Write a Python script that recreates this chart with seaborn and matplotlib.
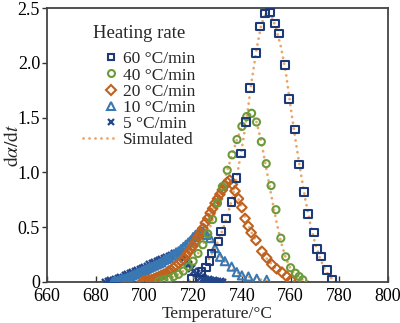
import matplotlib
matplotlib.use("Agg")
import matplotlib.pyplot as plt
import seaborn as sns
from matplotlib.lines import Line2D
from matplotlib.legend_handler import HandlerLine2D

# ---------------- data ----------------
rates = ["60 \u00b0C/min", "40 \u00b0C/min", "20 \u00b0C/min", "10 \u00b0C/min", "5 \u00b0C/min"]

T60 = [719.5, 723.5, 725.3, 726.6, 727.5, 730.3, 731.5, 733.5, 735.8, 737.9, 739.6, 741.7,
       743.4, 745.8, 747.5, 749.5, 751.6, 753.6, 755.3, 757.7, 759.4, 761.8, 763.5, 765.5,
       767.2, 769.6, 770.9, 772.5, 775.0, 777.0]
Y60 = [0.03, 0.09, 0.13, 0.19, 0.26, 0.37, 0.46, 0.58, 0.73, 0.95, 1.17, 1.46,
       1.77, 2.09, 2.33, 2.45, 2.46, 2.36, 2.27, 1.98, 1.67, 1.39, 1.07, 0.82,
       0.62, 0.45, 0.30, 0.23, 0.11, 0.02]

T40 = [706, 708, 710, 712, 714, 716, 718, 720, 722, 724, 726, 728, 730, 732, 734, 736, 738,
       740, 742, 744, 746, 748, 750, 752, 754, 756, 758, 760, 762, 763.5, 765]
Y40 = [0.01, 0.02, 0.03, 0.05, 0.07, 0.10, 0.14, 0.19, 0.26, 0.34, 0.44, 0.57, 0.72, 0.87,
       1.02, 1.16, 1.30, 1.42, 1.51, 1.54, 1.46, 1.28, 1.08, 0.88, 0.66, 0.40, 0.23, 0.13,
       0.08, 0.05, 0.02]

T20 = [699, 700, 701, 702, 703, 704, 705, 706, 707, 708, 709, 710, 711, 712, 713, 714, 715,
       716, 717, 718, 719, 720, 721, 722, 723, 724, 725, 726, 727, 728, 729, 730, 731, 732,
       733, 734, 735, 736.1, 737.2, 738.6, 740.0, 741.3, 742.6, 743.8, 745.8, 748.2, 750.2,
       752.3, 754.3, 756.4, 758.4, 760.2]
Y20 = [0.00, 0.01, 0.01, 0.02, 0.02, 0.03, 0.04, 0.05, 0.06, 0.07, 0.08, 0.10, 0.11, 0.13,
       0.15, 0.17, 0.19, 0.21, 0.24, 0.27, 0.30, 0.33, 0.37, 0.41, 0.45, 0.49, 0.54, 0.58,
       0.63, 0.67, 0.72, 0.76, 0.80, 0.84, 0.88, 0.91, 0.93, 0.89, 0.83, 0.76, 0.68, 0.58,
       0.51, 0.45, 0.38, 0.28, 0.22, 0.16, 0.12, 0.09, 0.05, 0.02]

T10 = [687, 688, 689, 690, 691, 692, 693, 694, 695, 696, 697, 698, 699, 700, 701, 702, 703,
       704, 705, 706, 707, 708, 709, 710, 711, 712, 713, 714, 715, 716, 717, 718, 719, 720,
       721, 722, 723, 724, 725.5, 727, 729, 731, 733, 735.8, 737.9, 740, 742.7, 746.1, 750.2]
Y10 = [0.00, 0.01, 0.01, 0.02, 0.03, 0.03, 0.04, 0.05, 0.06, 0.07, 0.08, 0.09, 0.10, 0.11,
       0.12, 0.13, 0.14, 0.15, 0.16, 0.17, 0.18, 0.20, 0.21, 0.22, 0.24, 0.25, 0.27, 0.28,
       0.30, 0.32, 0.34, 0.36, 0.38, 0.41, 0.43, 0.45, 0.47, 0.46, 0.43, 0.40, 0.31, 0.23,
       0.19, 0.14, 0.09, 0.06, 0.05, 0.03, 0.02]

T5 = [684, 685, 686, 687, 688, 689, 690, 691, 692, 693, 694, 695, 696, 697, 698, 699, 700,
      701, 702, 703, 704, 705, 706, 707, 708, 709, 710, 711, 712, 713, 714, 715, 716, 717,
      718, 719, 720, 721, 722, 723, 724, 725, 726, 727, 728, 729, 730, 731, 732]
Y5 = [0.00, 0.01, 0.02, 0.02, 0.03, 0.04, 0.05, 0.05, 0.06, 0.07, 0.08, 0.09, 0.10, 0.11,
      0.12, 0.13, 0.14, 0.15, 0.16, 0.17, 0.18, 0.19, 0.20, 0.21, 0.22, 0.23, 0.24, 0.25,
      0.26, 0.26, 0.26, 0.24, 0.22, 0.19, 0.16, 0.13, 0.10, 0.08, 0.06, 0.05, 0.04, 0.03,
      0.03, 0.02, 0.02, 0.01, 0.01, 0.01, 0.00]

# simulated curves
S60_T = [716, 718, 720, 722, 724, 726, 728, 730, 732, 734, 736, 738, 740, 742, 744, 746, 748,
         750, 752, 754, 756, 758, 760, 762, 764, 766, 768, 770, 772, 774, 776, 778, 780]
S60_Y = [0.00, 0.01, 0.03, 0.07, 0.12, 0.19, 0.27, 0.36, 0.47, 0.60, 0.76, 0.97, 1.22, 1.50,
         1.83, 2.12, 2.35, 2.46, 2.44, 2.32, 2.15, 1.92, 1.60, 1.30, 1.02, 0.76, 0.54, 0.36,
         0.22, 0.12, 0.05, 0.01, 0.00]
S40_T = [702, 704, 706, 708, 710, 712, 714, 716, 718, 720, 722, 724, 726, 728, 730, 732, 734,
         736, 738, 740, 742, 744, 746, 748, 750, 752, 754, 756, 758, 760, 762, 764, 766, 768]
S40_Y = [0.00, 0.00, 0.01, 0.02, 0.03, 0.05, 0.07, 0.10, 0.14, 0.19, 0.26, 0.34, 0.44, 0.57,
         0.72, 0.87, 1.02, 1.16, 1.30, 1.42, 1.51, 1.54, 1.46, 1.28, 1.04, 0.80, 0.57, 0.37,
         0.22, 0.12, 0.06, 0.03, 0.01, 0.00]
S20_T = [696, 698, 700, 702, 704, 706, 708, 710, 712, 714, 716, 718, 720, 722, 724, 726, 728,
         730, 732, 734, 736, 738, 740, 742, 744, 746, 748, 750, 752, 754, 756, 758, 760, 762, 764]
S20_Y = [0.00, 0.00, 0.01, 0.02, 0.03, 0.05, 0.07, 0.10, 0.13, 0.17, 0.21, 0.27, 0.33, 0.41,
         0.49, 0.58, 0.67, 0.76, 0.84, 0.91, 0.91, 0.79, 0.68, 0.55, 0.45, 0.37, 0.29, 0.22,
         0.17, 0.12, 0.09, 0.05, 0.02, 0.01, 0.00]
S10_T = [684, 686, 688, 690, 692, 694, 696, 698, 700, 702, 704, 706, 708, 710, 712, 714, 716,
         718, 720, 722, 724, 726, 728, 730, 732, 734, 736, 738, 740, 742, 744, 746, 748, 750, 752]
S10_Y = [0.00, 0.00, 0.01, 0.02, 0.03, 0.05, 0.07, 0.09, 0.11, 0.13, 0.15, 0.17, 0.20, 0.22,
         0.25, 0.28, 0.32, 0.36, 0.41, 0.45, 0.46, 0.42, 0.35, 0.27, 0.21, 0.16, 0.12, 0.09,
         0.06, 0.05, 0.04, 0.03, 0.02, 0.01, 0.00]
S5_T = [682, 684, 686, 688, 690, 692, 694, 696, 698, 700, 702, 704, 706, 708, 710, 712, 714,
        716, 718, 720, 722, 724, 726, 728, 730, 732, 734]
S5_Y = [0.00, 0.01, 0.02, 0.03, 0.05, 0.06, 0.08, 0.10, 0.12, 0.14, 0.16, 0.18, 0.20, 0.22,
        0.24, 0.26, 0.26, 0.22, 0.16, 0.10, 0.06, 0.04, 0.03, 0.02, 0.01, 0.00, 0.00]

x_ticks = [660, 680, 700, 720, 740, 760, 780, 800]
y_ticks = [0, 0.5, 1.0, 1.5, 2.0, 2.5]
y_ticklabels = ["0", "0.5", "1.0", "1.5", "2.0", "2.5"]

# ---------------- style ----------------
sns.set_theme(style="ticks")
plt.rcParams['font.family'] = ['Liberation Serif', 'DejaVu Serif']
plt.rcParams['mathtext.fontset'] = 'stix'

C60 = "#1c3a78"
C40 = "#6a9a3a"
C20 = "#c0621f"
C10 = "#3a78b4"
C5 = "#24468a"
CSIM = "#e9a66b"
DOT = (0, (0.05, 2.1))

fig = plt.figure(figsize=(4.0, 3.23), dpi=100)
ax = fig.add_axes([0.1175, 0.127, 0.8525, 0.848])

sim_style = dict(color=CSIM, linewidth=2.0, linestyle=DOT,
                 dash_capstyle="round", estimator=None, sort=False, legend=False, zorder=2)
for st, sy in [(S60_T, S60_Y), (S40_T, S40_Y), (S20_T, S20_Y), (S10_T, S10_Y), (S5_T, S5_Y)]:
    sns.lineplot(x=st, y=sy, ax=ax, **sim_style)


def hollow(x, y, marker, color, s, lw=1.5):
    sns.scatterplot(x=x, y=y, ax=ax, marker=marker, s=s, facecolor="none",
                    edgecolor=color, linewidth=lw, legend=False, zorder=3)


sns.scatterplot(x=T5, y=Y5, ax=ax, marker="x", s=26, color=C5, linewidth=1.7,
                legend=False, zorder=3)
hollow(T10, Y10, "^", C10, 34)
hollow(T20, Y20, "D", C20, 24)
hollow(T40, Y40, "o", C40, 26)
hollow(T60, Y60, "s", C60, 28)

ax.set_xlim(660, 800)
ax.set_ylim(0, 2.5)
ax.set_xticks(x_ticks)
ax.set_yticks(y_ticks)
ax.set_yticklabels(y_ticklabels)
ax.tick_params(axis="x", direction="in", length=4, width=1.0, pad=4.5, labelsize=13,
               color="#333333", labelcolor="black")
ax.tick_params(axis="y", direction="out", length=3.5, width=1.0, pad=1.5, labelsize=13,
               color="#333333", labelcolor="black")
for sp in ax.spines.values():
    sp.set_visible(True)
    sp.set_linewidth(1.3)
    sp.set_color("#444444")

ax.set_xlabel("Temperature/\u00b0C", fontsize=12.5, labelpad=0.5)
ax.set_ylabel(r"$\mathrm{d}\alpha/\mathrm{d}t$", fontsize=14)
ax.yaxis.set_label_coords(-0.074, 0.5)


class RightMarker(HandlerLine2D):
    def get_xdata(self, legend, xdescent, ydescent, width, height, fontsize):
        xm = -xdescent + width - 0.15 * fontsize
        return [xm - 0.5, xm + 0.5], [xm]


marker_handles = [
    Line2D([], [], linestyle="none", marker="s", markersize=5, mfc="none", mec=C60, mew=1.5),
    Line2D([], [], linestyle="none", marker="o", markersize=5, mfc="none", mec=C40, mew=1.5),
    Line2D([], [], linestyle="none", marker="D", markersize=4.8, mfc="none", mec=C20, mew=1.5),
    Line2D([], [], linestyle="none", marker="^", markersize=6, mfc="none", mec=C10, mew=1.5),
    Line2D([], [], linestyle="none", marker="x", markersize=5, color=C5, mew=1.6),
]
sim_handle = Line2D([], [], color=CSIM, linewidth=2.0, linestyle=DOT, dash_capstyle="round")
hmap = {h: RightMarker() for h in marker_handles}
labels = rates + ["Simulated"]
leg = ax.legend(marker_handles + [sim_handle], labels, title="Heating rate", loc="upper left",
                bbox_to_anchor=(0.105, 0.94), frameon=False, fontsize=12.5,
                title_fontsize=13.5, handlelength=1.8, handletextpad=0.5,
                labelspacing=0.0, borderpad=0, borderaxespad=0,
                handler_map=hmap)
leg._legend_box.sep = 7

fig.savefig("out.png", dpi=100)
